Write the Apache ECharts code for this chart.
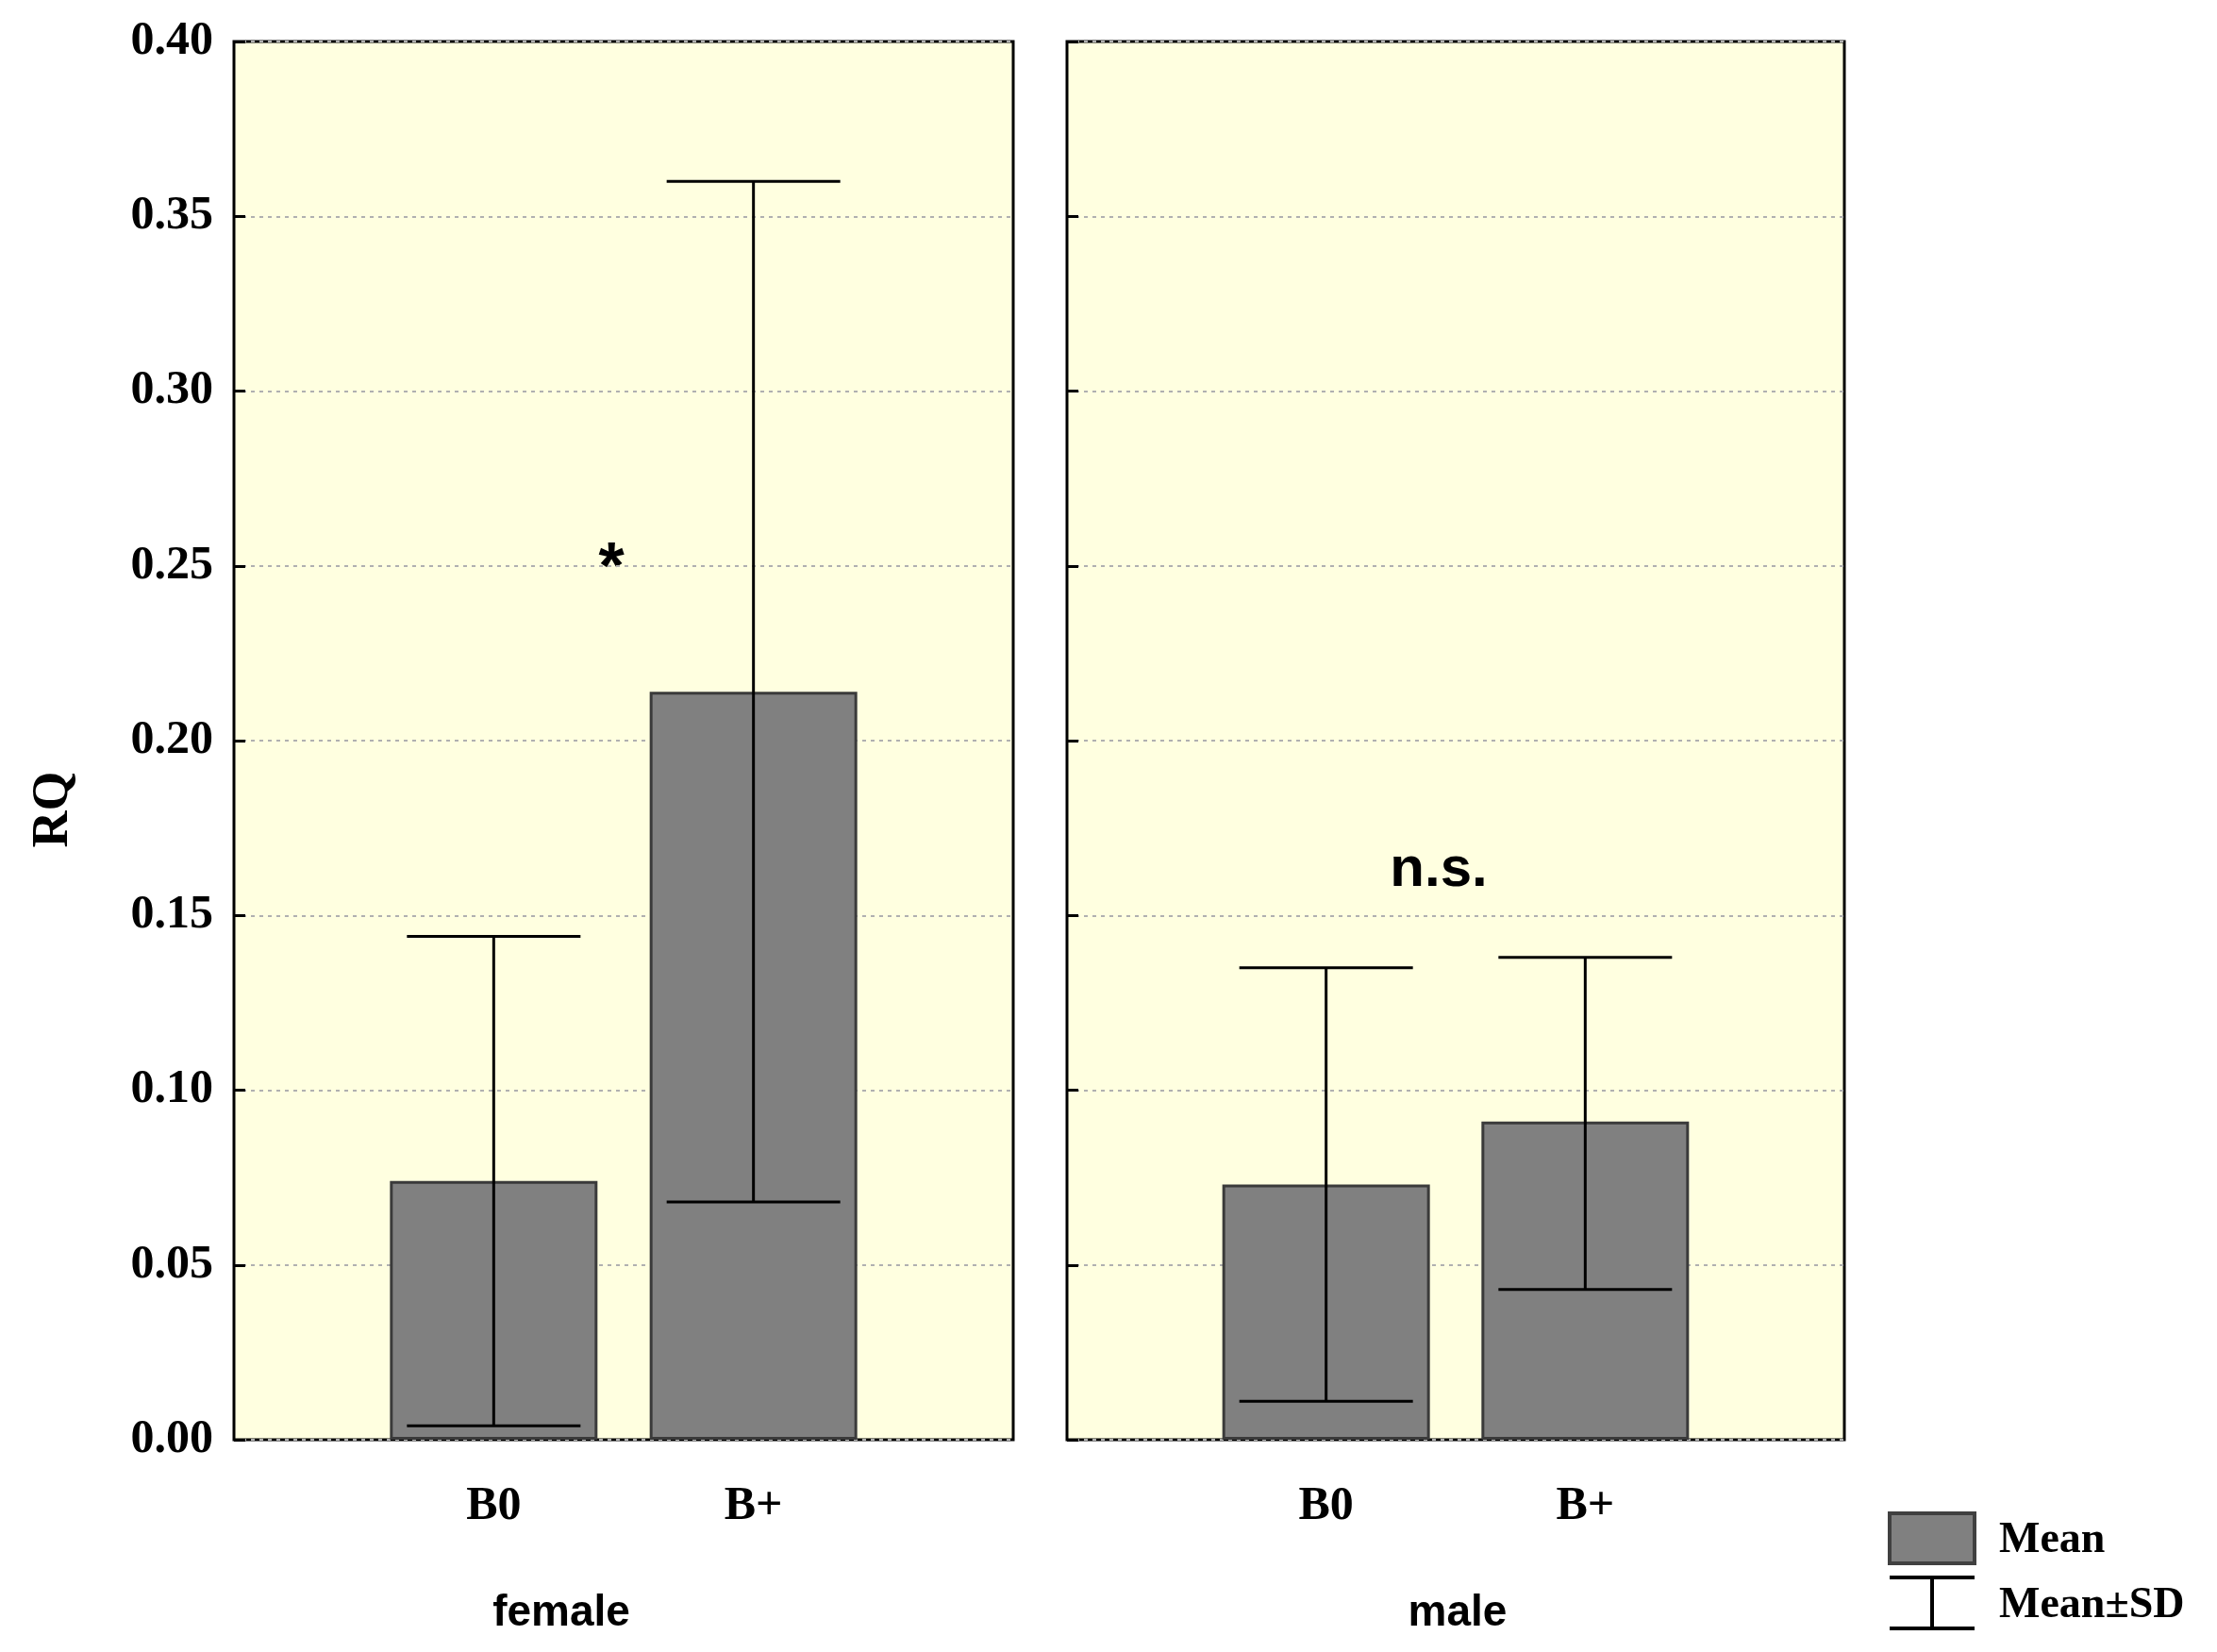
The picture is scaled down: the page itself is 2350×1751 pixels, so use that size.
<!DOCTYPE html>
<html><head><meta charset="utf-8">
<script src="https://cdn.jsdelivr.net/npm/echarts@6/dist/echarts.min.js"></script>
<style>html,body{margin:0;padding:0;background:#fff}#c{width:2350px;height:1751px}</style>
</head><body><div id="c"></div>
<script>
const categories = ['', 'B0', 'B+', ''];
const femaleMean = [0.074, 0.214];
const femaleLow = [0.004, 0.068];
const femaleHigh = [0.144, 0.360];
const maleMean = [0.073, 0.091];
const maleLow = [0.011, 0.043];
const maleHigh = [0.135, 0.138];
const yTicks = [0, 0.05, 0.10, 0.15, 0.20, 0.25, 0.30, 0.35, 0.40];
const panelNames = ['female', 'male'];

const serif = 'Liberation Serif';
const chart = echarts.init(document.getElementById('c'));
const grids = [
  {left: 248, top: 44, width: 826, height: 1482},
  {left: 1131, top: 44, width: 824, height: 1482}
].map(g => Object.assign(g, {show: true, backgroundColor: '#ffffe0', borderColor: '#000', borderWidth: 3, containLabel: false}));

function xAx(i) {
  return {type: 'category', gridIndex: i, data: categories, boundaryGap: false,
    axisLine: {show: false},
    axisTick: {show: true, inside: true, length: 12, lineStyle: {color: '#000', width: 3}, interval: (idx) => idx === 1 || idx === 2},
    axisLabel: {margin: 46, fontFamily: serif, fontWeight: 'bold', fontSize: 50, color: '#000', interval: 0},
    splitLine: {show: false}};
}
function yAx(i) {
  return {type: 'value', gridIndex: i, min: 0, max: 0.4, interval: 0.05,
    axisLine: {show: false},
    axisTick: {show: true, inside: true, length: 12, lineStyle: {color: '#000', width: 3}},
    axisLabel: {show: i === 0, margin: 22, fontFamily: serif, fontWeight: 'bold', fontSize: 50, color: '#000',
      formatter: v => v.toFixed(2)},
    splitLine: {show: true, lineStyle: {color: '#b0b0b0', type: [4, 5], width: 2}}};
}
function pad(arr) { return ['-', arr[0], arr[1], '-']; }
function errData(lo, hi) { return [[1, lo[0], hi[0]], [2, lo[1], hi[1]]]; }
function renderErr(params, api) {
  const x = api.value(0);
  const a = api.coord([x, api.value(1)]);
  const b = api.coord([x, api.value(2)]);
  const hw = 92;
  const st = {stroke: '#000', lineWidth: 3};
  return {type: 'group', children: [
    {type: 'line', shape: {x1: a[0], y1: a[1], x2: b[0], y2: b[1]}, style: st},
    {type: 'line', shape: {x1: a[0] - hw, y1: a[1], x2: a[0] + hw, y2: a[1]}, style: st},
    {type: 'line', shape: {x1: b[0] - hw, y1: b[1], x2: b[0] + hw, y2: b[1]}, style: st}
  ]};
}
const barStyle = {color: '#808080', borderColor: '#3a3a3a', borderWidth: 3};
const series = [];
[[femaleMean, femaleLow, femaleHigh], [maleMean, maleLow, maleHigh]].forEach((d, i) => {
  series.push({type: 'bar', xAxisIndex: i, yAxisIndex: i, data: pad(d[0]), barWidth: 220, itemStyle: barStyle, silent: true});
  series.push({type: 'custom', xAxisIndex: i, yAxisIndex: i, data: errData(d[1], d[2]), renderItem: renderErr, z: 5, silent: true});
});

const txt = (x, y, t, o) => ({type: 'text', x: x, y: y, style: Object.assign({text: t, fill: '#000', fontFamily: serif, fontWeight: 'bold', fontSize: 50, align: 'center', verticalAlign: 'middle'}, o || {})});
chart.setOption({
  animation: false,
  grid: grids,
  xAxis: [xAx(0), xAx(1)],
  yAxis: [yAx(0), yAx(1)],
  series: series,
  graphic: [
    txt(595, 1710, panelNames[0], {fontFamily: 'Liberation Sans', fontSize: 46}),
    txt(1545, 1710, panelNames[1], {fontFamily: 'Liberation Sans', fontSize: 46}),
    txt(648, 605, '*', {fontFamily: 'Liberation Sans', fontSize: 70}),
    txt(1525, 922, 'n.s.', {fontFamily: 'Liberation Sans', fontSize: 60}),
    {type: 'text', x: 57, y: 858, rotation: Math.PI / 2, style: {text: 'RQ', fill: '#000', fontFamily: serif, fontWeight: 'bold', fontSize: 54, align: 'center', verticalAlign: 'middle'}},
    {type: 'rect', shape: {x: 2003, y: 1604, width: 90, height: 53}, style: {fill: '#808080', stroke: '#404040', lineWidth: 4}},
    {type: 'line', shape: {x1: 2003, y1: 1672, x2: 2093, y2: 1672}, style: {stroke: '#000', lineWidth: 4}},
    {type: 'line', shape: {x1: 2003, y1: 1726, x2: 2093, y2: 1726}, style: {stroke: '#000', lineWidth: 4}},
    {type: 'line', shape: {x1: 2048, y1: 1672, x2: 2048, y2: 1726}, style: {stroke: '#000', lineWidth: 4}},
    txt(2119, 1633, 'Mean', {align: 'left', fontSize: 46}),
    txt(2119, 1702, 'Mean±SD', {align: 'left', fontSize: 46})
  ]
});
</script></body></html>
